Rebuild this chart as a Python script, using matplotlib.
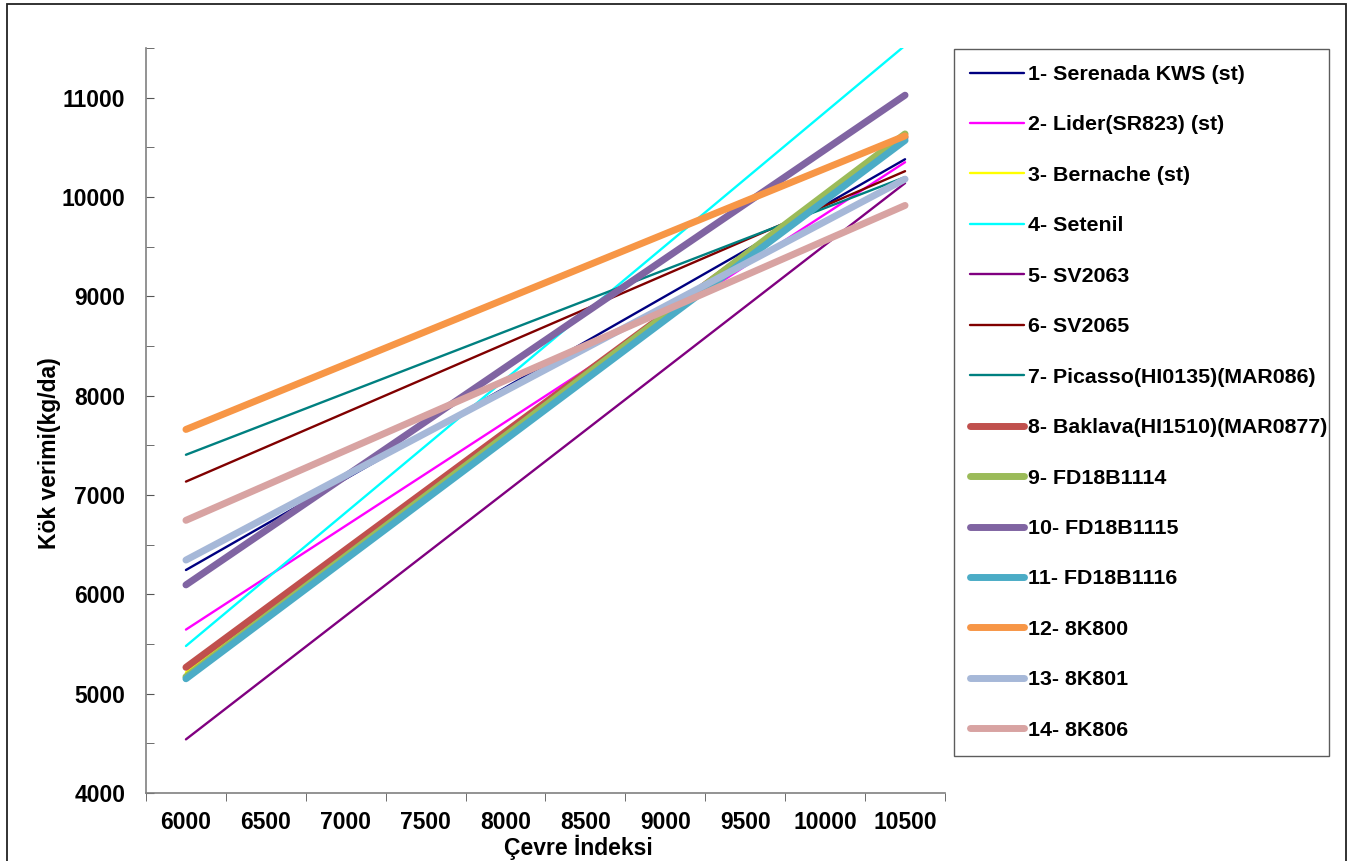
import matplotlib
matplotlib.use("Agg")
import matplotlib.pyplot as plt
from matplotlib.patches import Rectangle
from matplotlib.ticker import MultipleLocator

plt.rcParams["font.family"] = ["Liberation Sans", "DejaVu Sans"]
plt.rcParams["font.weight"] = "bold"

# environment index at the two ends of each regression line
env_index = [6000, 10500]

names = [
    "1- Serenada KWS (st)", "2- Lider(SR823) (st)", "3- Bernache (st)",
    "4- Setenil", "5- SV2063", "6- SV2065", "7- Picasso(HI0135)(MAR086)",
    "8- Baklava(HI1510)(MAR0877)", "9- FD18B1114", "10- FD18B1115",
    "11- FD18B1116", "12- 8K800", "13- 8K801", "14- 8K806",
]
# root yield (kg/da) at env index 6000 and 10500
yield_start = [6245, 5645, 5215, 5480, 4540, 7135, 7405, 5265, 5170, 6095, 5150, 7660, 6345, 6745]
yield_end = [10380, 10350, 10590, 11525, 10140, 10260, 10200, 10600, 10635, 11025, 10570, 10615, 10180, 9915]

colors = ["#000080", "#FF00FF", "#FFFF00", "#00FFFF", "#800080", "#800000", "#008080",
          "#C0504D", "#9BBB59", "#8064A2", "#4BACC6", "#F79646", "#A6B8D8", "#D8A3A2"]
widths = [1.7] * 7 + [5.0] * 7

x_ticks = [6000, 6500, 7000, 7500, 8000, 8500, 9000, 9500, 10000, 10500]
y_ticks = [4000, 5000, 6000, 7000, 8000, 9000, 10000, 11000]

fig = plt.figure(figsize=(13.71, 8.61), dpi=100)
ax = fig.add_axes([146 / 1371, 68 / 861, 799 / 1371, 745 / 861])

for i, name in enumerate(names):
    ax.plot(env_index, [yield_start[i], yield_end[i]], color=colors[i],
            linewidth=widths[i], solid_capstyle="round", label=name)

ax.set_xlim(5750, 10750)
ax.set_ylim(4000, 11500)

ax.set_xticks(x_ticks)
ax.set_xticklabels([str(v) for v in x_ticks])
ax.xaxis.set_minor_locator(MultipleLocator(500, offset=250))
ax.tick_params(axis="x", which="major", length=0, pad=13, labelsize=16.5)
ax.tick_params(axis="x", which="minor", length=6, direction="out", color="#555555")

ax.set_yticks(y_ticks)
ax.yaxis.set_minor_locator(MultipleLocator(500))
ax.tick_params(axis="y", which="both", length=6, direction="in", color="#555555",
               labelsize=16.5, pad=15)

for s in ["top", "right"]:
    ax.spines[s].set_visible(False)
for s in ["left", "bottom"]:
    ax.spines[s].set_color("#808080")
    ax.spines[s].set_linewidth(1.2)

fig.text(578 / 1371, 1 - 847 / 861, "Çevre İndeksi", ha="center", va="center",
         fontsize=16.5, fontweight="bold")
fig.text(50 / 1371, 1 - 453 / 861, "Kök verimi(kg/da)", ha="center", va="center",
         rotation=90, fontsize=16.5, fontweight="bold")

leg = fig.legend(loc="upper left", bbox_to_anchor=(954 / 1371, 1 - 49 / 861, 375 / 1371, 0.0),
                 mode="expand", fontsize=15.4, frameon=True, fancybox=False,
                 borderaxespad=0, borderpad=0.75, labelspacing=1.47,
                 handlelength=2.5, handletextpad=0.2)
leg.get_frame().set_edgecolor("#333333")
leg.get_frame().set_linewidth(1.0)

# outer chart border
fig.patches.append(Rectangle((7 / 1371, -0.02), 1339 / 1371, 1.02 - 4 / 861,
                             transform=fig.transFigure, fill=False,
                             edgecolor="#222222", linewidth=1.3))

fig.savefig("out.png", dpi=100)
